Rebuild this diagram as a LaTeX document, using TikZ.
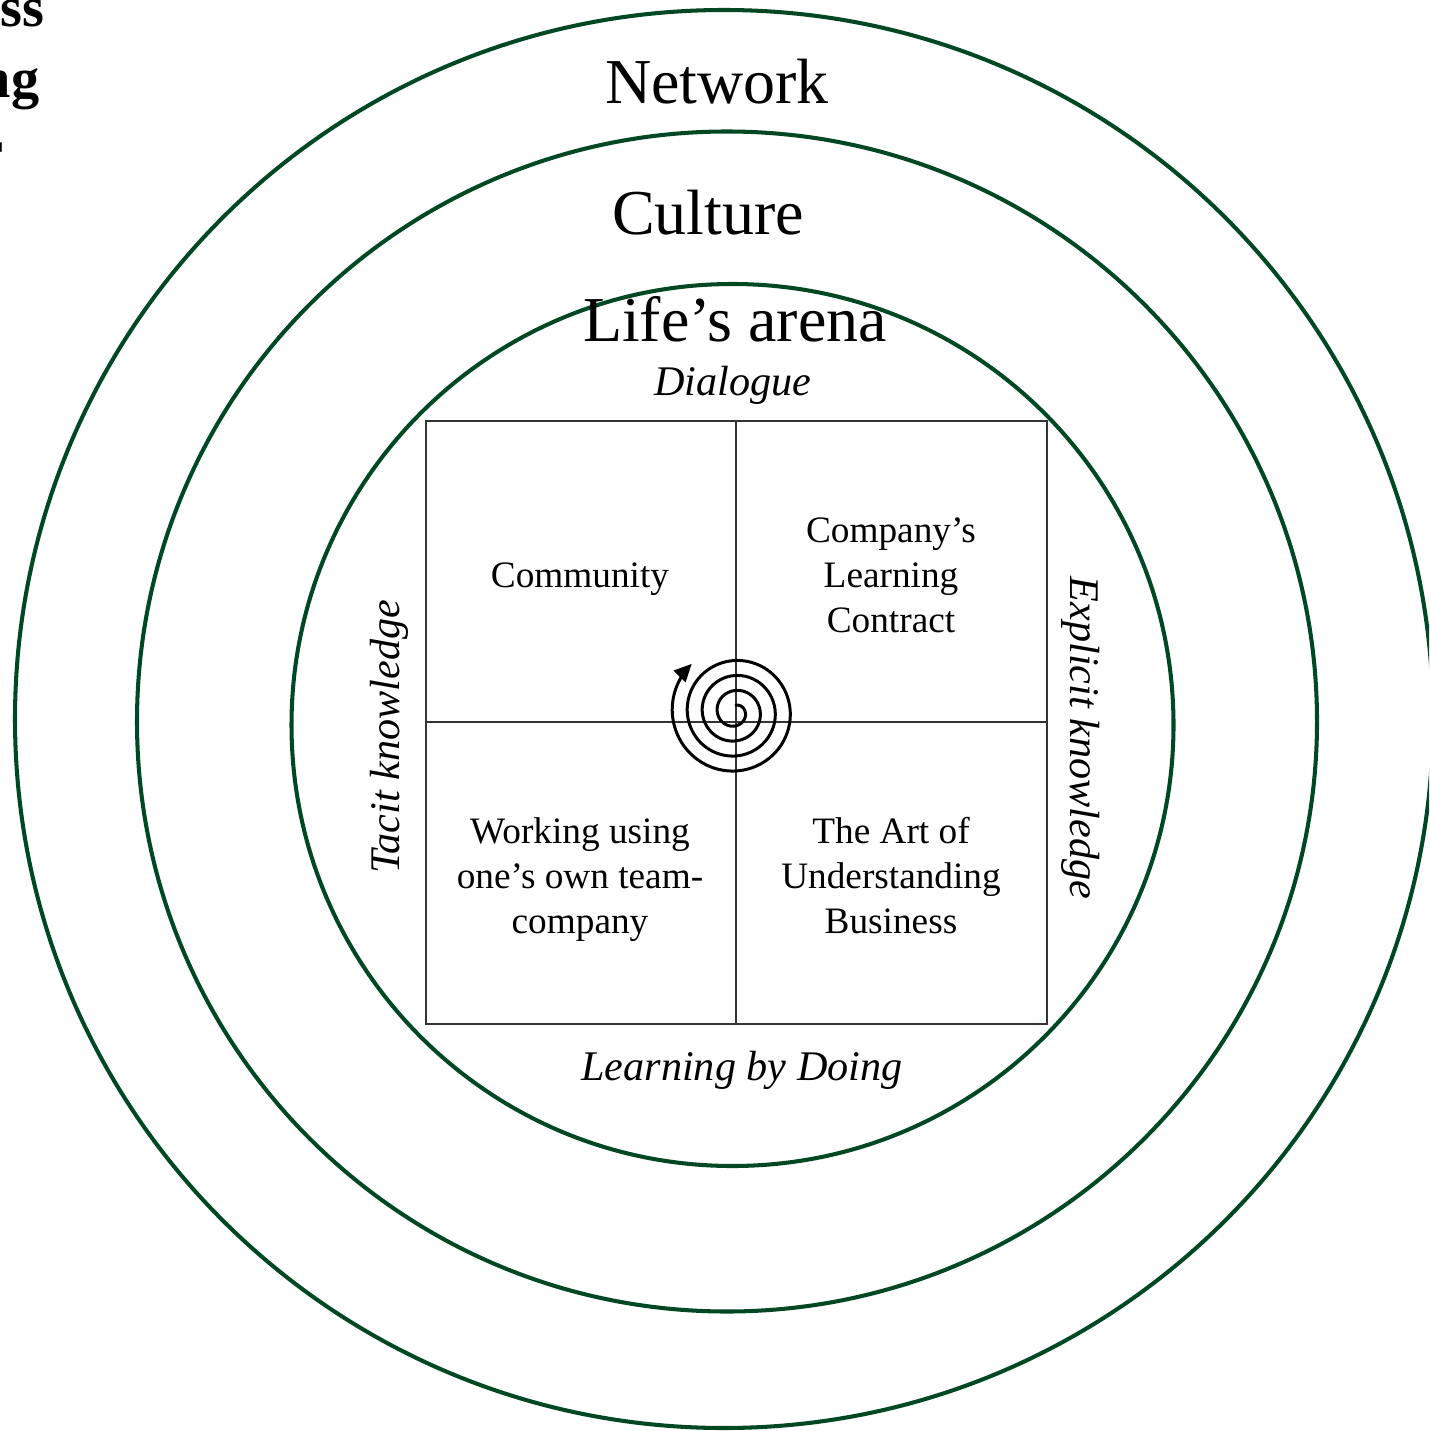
\documentclass[tikz,border=0pt]{standalone}
\usepackage{fontspec}
\setmainfont{Liberation Serif}
\usetikzlibrary{arrows.meta}
\definecolor{ringgreen}{RGB}{0,72,36}
\tikzset{
  ring/.style = {draw=ringgreen, line width=1.15pt},
  grid/.style = {draw=black!80, line width=0.45pt},
  big/.style = {font=\fontsize{18.2}{21}\selectfont},
  side/.style = {font=\fontsize{12}{14}\selectfont\itshape},
  quad/.style = {font=\fontsize{10.6}{12.8}\selectfont, align=center, inner sep=0pt},
  cuttag/.style = {font=\fontsize{16}{20}\selectfont\bfseries, anchor=base east, inner sep=0pt}
}
\begin{document}
\begin{tikzpicture}[x=0.01cm, y=-0.01cm]
\useasboundingbox (0,0) rectangle (1429,1431);
\clip (0,0) rectangle (1429,1431);
\foreach \cx/\cy/\r in {724/719/709, 727/721.5/590, 732.5/725/441}
  \draw[ring] (\cx,\cy) circle[radius=\r];
\draw[grid] (426,421) rectangle (1047,1024);
\draw[grid] (736,421) -- (736,1024) (426,722) -- (1047,722);
\node[cuttag] (tagone) at (45,27) {Business};
\node[cuttag] (tagtwo) at (40,98) {Learning};
\node[cuttag] (tagthree) at (4,170) {Center};
\node[big, anchor=base] (network) at (717,104) {Network};
\node[big, anchor=base] (culture) at (708,235) {Culture};
\node[big, anchor=base] (arena) at (735,342) {Life’s arena};
\node[side, anchor=base] (dialogue) at (733,396) {Dialogue};
\node[side, anchor=base] (doing) at (742,1080) {Learning by Doing};
\node[side, rotate=90] (tacit) at (389,737) {Tacit knowledge};
\node[side, rotate=-90] (explicit) at (1081,738) {Explicit knowledge};
\node[quad] (community) at (580,579) {Community};
\node[quad] (contract) at (891,575) {Company’s\\Learning\\Contract};
\node[quad] (teamco) at (580,880) {Working using\\one’s own team-\\company};
\node[quad] (artof) at (891,876) {The Art of\\Understanding\\Business};
\draw[line width=0.85pt, -{Triangle[length=5pt,width=4.6pt]}]
  plot[domain=0:1398, samples=240, smooth, variable=\t]
  ({735+(6.5+\t/24)*cos(\t-90)}, {712+(6.5+\t/24)*sin(\t-90)});
\end{tikzpicture}
\end{document}
